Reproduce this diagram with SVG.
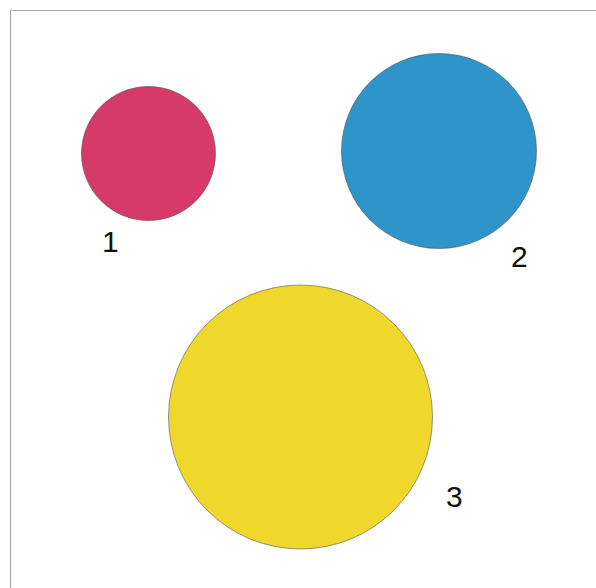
<svg xmlns="http://www.w3.org/2000/svg" width="596" height="588" viewBox="0 0 596 588">
<style>
.c{stroke:#555;stroke-width:0.6}
.l{font-family:"Liberation Sans",Arial,sans-serif;font-size:30px;fill:#111}
</style>
<rect width="596" height="588" fill="#fff"/>
<path d="M10.5 588 V10.5 H596" fill="none" stroke="#aaa" stroke-width="1.2"/>
<g id="node1"><circle class="c" cx="148.5" cy="153.5" r="67" fill="#D63A6B"/><text class="l" x="102" y="252">1</text></g>
<g id="node2"><circle class="c" cx="439" cy="151" r="97.5" fill="#2E94C9"/><text class="l" x="511" y="267">2</text></g>
<g id="node3"><circle class="c" cx="300.5" cy="417" r="132" fill="#EFD72B"/><text class="l" x="446" y="507">3</text></g>
<g id="connectors"/>
</svg>
